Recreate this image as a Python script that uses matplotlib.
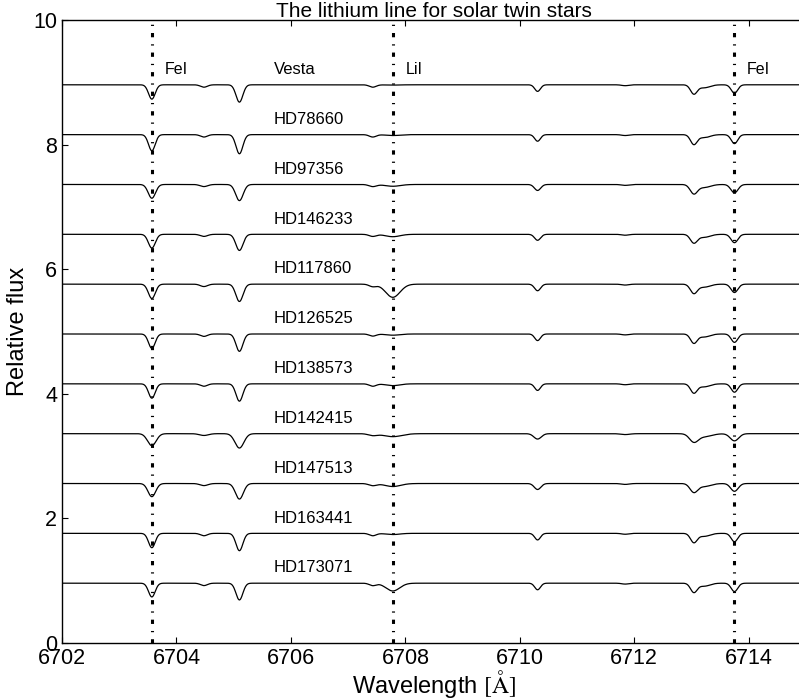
import matplotlib
matplotlib.use('Agg')
import matplotlib.pyplot as plt
import numpy as np

plt.rcParams['font.family'] = ['Liberation Sans', 'DejaVu Sans']
plt.rcParams['mathtext.fontset'] = 'stix'

# stars, top to bottom
stars = ['Vesta', 'HD78660', 'HD97356', 'HD146233', 'HD117860', 'HD126525',
         'HD138573', 'HD142415', 'HD147513', 'HD163441', 'HD173071']

# line centres [A] and base widths (sigma)
line_centres = [6703.57, 6704.48, 6705.10, 6707.43, 6707.78, 6710.31,
                6711.84, 6713.04, 6713.22, 6713.75]
line_sigma = [0.058, 0.06, 0.06, 0.06, 0.12, 0.05, 0.06, 0.058, 0.1, 0.057]

# line depths per star (relative flux), same order as stars
depth_fe6703 = [0.24, 0.27, 0.23, 0.23, 0.24, 0.24, 0.24, 0.20, 0.22, 0.24, 0.23]
depth_6704 = [0.04, 0.04, 0.035, 0.035, 0.04, 0.04, 0.04, 0.03, 0.035, 0.04, 0.04]
depth_6705 = [0.29, 0.32, 0.27, 0.27, 0.29, 0.29, 0.29, 0.24, 0.26, 0.29, 0.28]
depth_fe6707 = [0.04, 0.04, 0.035, 0.035, 0.04, 0.035, 0.04, 0.03, 0.035, 0.04, 0.04]
depth_li = [0.005, 0.015, 0.03, 0.04, 0.22, 0.02, 0.03, 0.05, 0.05, 0.02, 0.13]
depth_6710 = [0.11, 0.11, 0.10, 0.10, 0.11, 0.11, 0.11, 0.09, 0.10, 0.11, 0.11]
depth_6711 = [0.015, 0.015, 0.015, 0.015, 0.015, 0.015, 0.015, 0.015, 0.015, 0.015, 0.015]
depth_6713 = [0.15, 0.16, 0.15, 0.14, 0.15, 0.15, 0.15, 0.13, 0.14, 0.15, 0.15]
depth_6713b = [0.05, 0.05, 0.05, 0.05, 0.05, 0.05, 0.05, 0.05, 0.05, 0.05, 0.05]
depth_fe6714 = [0.14, 0.15, 0.14, 0.14, 0.14, 0.14, 0.14, 0.12, 0.13, 0.14, 0.14]
width_factor = [1.0, 1.0, 1.1, 1.05, 1.05, 1.0, 1.0, 1.3, 1.15, 1.0, 1.0]
continuum = 0.96
offset_step = 0.8

# marked lines
mark_wl = [6703.57, 6707.79, 6713.74]
mark_names = ['FeI', 'LiI', 'FeI']

depths = np.array([depth_fe6703, depth_6704, depth_6705, depth_fe6707, depth_li,
                   depth_6710, depth_6711, depth_6713, depth_6713b, depth_fe6714]).T

wl = np.arange(6701.9, 6715.2, 0.005)

fig = plt.figure(figsize=(7.99, 7.00), dpi=100)
ax = fig.add_axes([62/799, 57/700, 744/799, 623/700])

n = len(stars)
for i, name in enumerate(stars):
    off = offset_step * (n - 1 - i)
    flux = np.ones_like(wl)
    for c, s, d in zip(line_centres, line_sigma, depths[i]):
        s = s * width_factor[i]
        flux *= 1 - d * np.exp(-0.5 * ((wl - c) / s) ** 2)
    ax.plot(wl, continuum * flux + off, color='black', lw=0.9)
    ax.text(6705.7, continuum + off + 0.245, name, fontsize=12,
            ha='left', va='center')

for w, lab in zip(mark_wl, mark_names):
    ax.axvline(w, color='black', lw=2.2, linestyle=(0, (1.4, 2.3, 0.4, 2.3)))
    ax.text(w + 0.22, 9.2, lab, fontsize=11.5, ha='left', va='center')

ax.set_xlim(6702, 6715)
ax.set_ylim(0, 10)
ax.set_xticks([6702, 6704, 6706, 6708, 6710, 6712, 6714])
ax.set_yticks([0, 2, 4, 6, 8, 10])
ax.tick_params(direction='in', top=True, right=True, length=4, labelsize=15.5)
for sp in ax.spines.values():
    sp.set_linewidth(1.0)

fig.text(434/799, (700-17)/700, 'The lithium line for solar twin stars',
         fontsize=15, ha='center', va='baseline')
fig.text(434/799, (700-684)/700, r'Wavelength $[\mathrm{\AA}]$',
         fontsize=17, ha='center', va='center')
fig.text(18/799, (700-331)/700, 'Relative flux', fontsize=17,
         rotation=90, ha='center', va='center')

fig.savefig('out.png', dpi=100)
